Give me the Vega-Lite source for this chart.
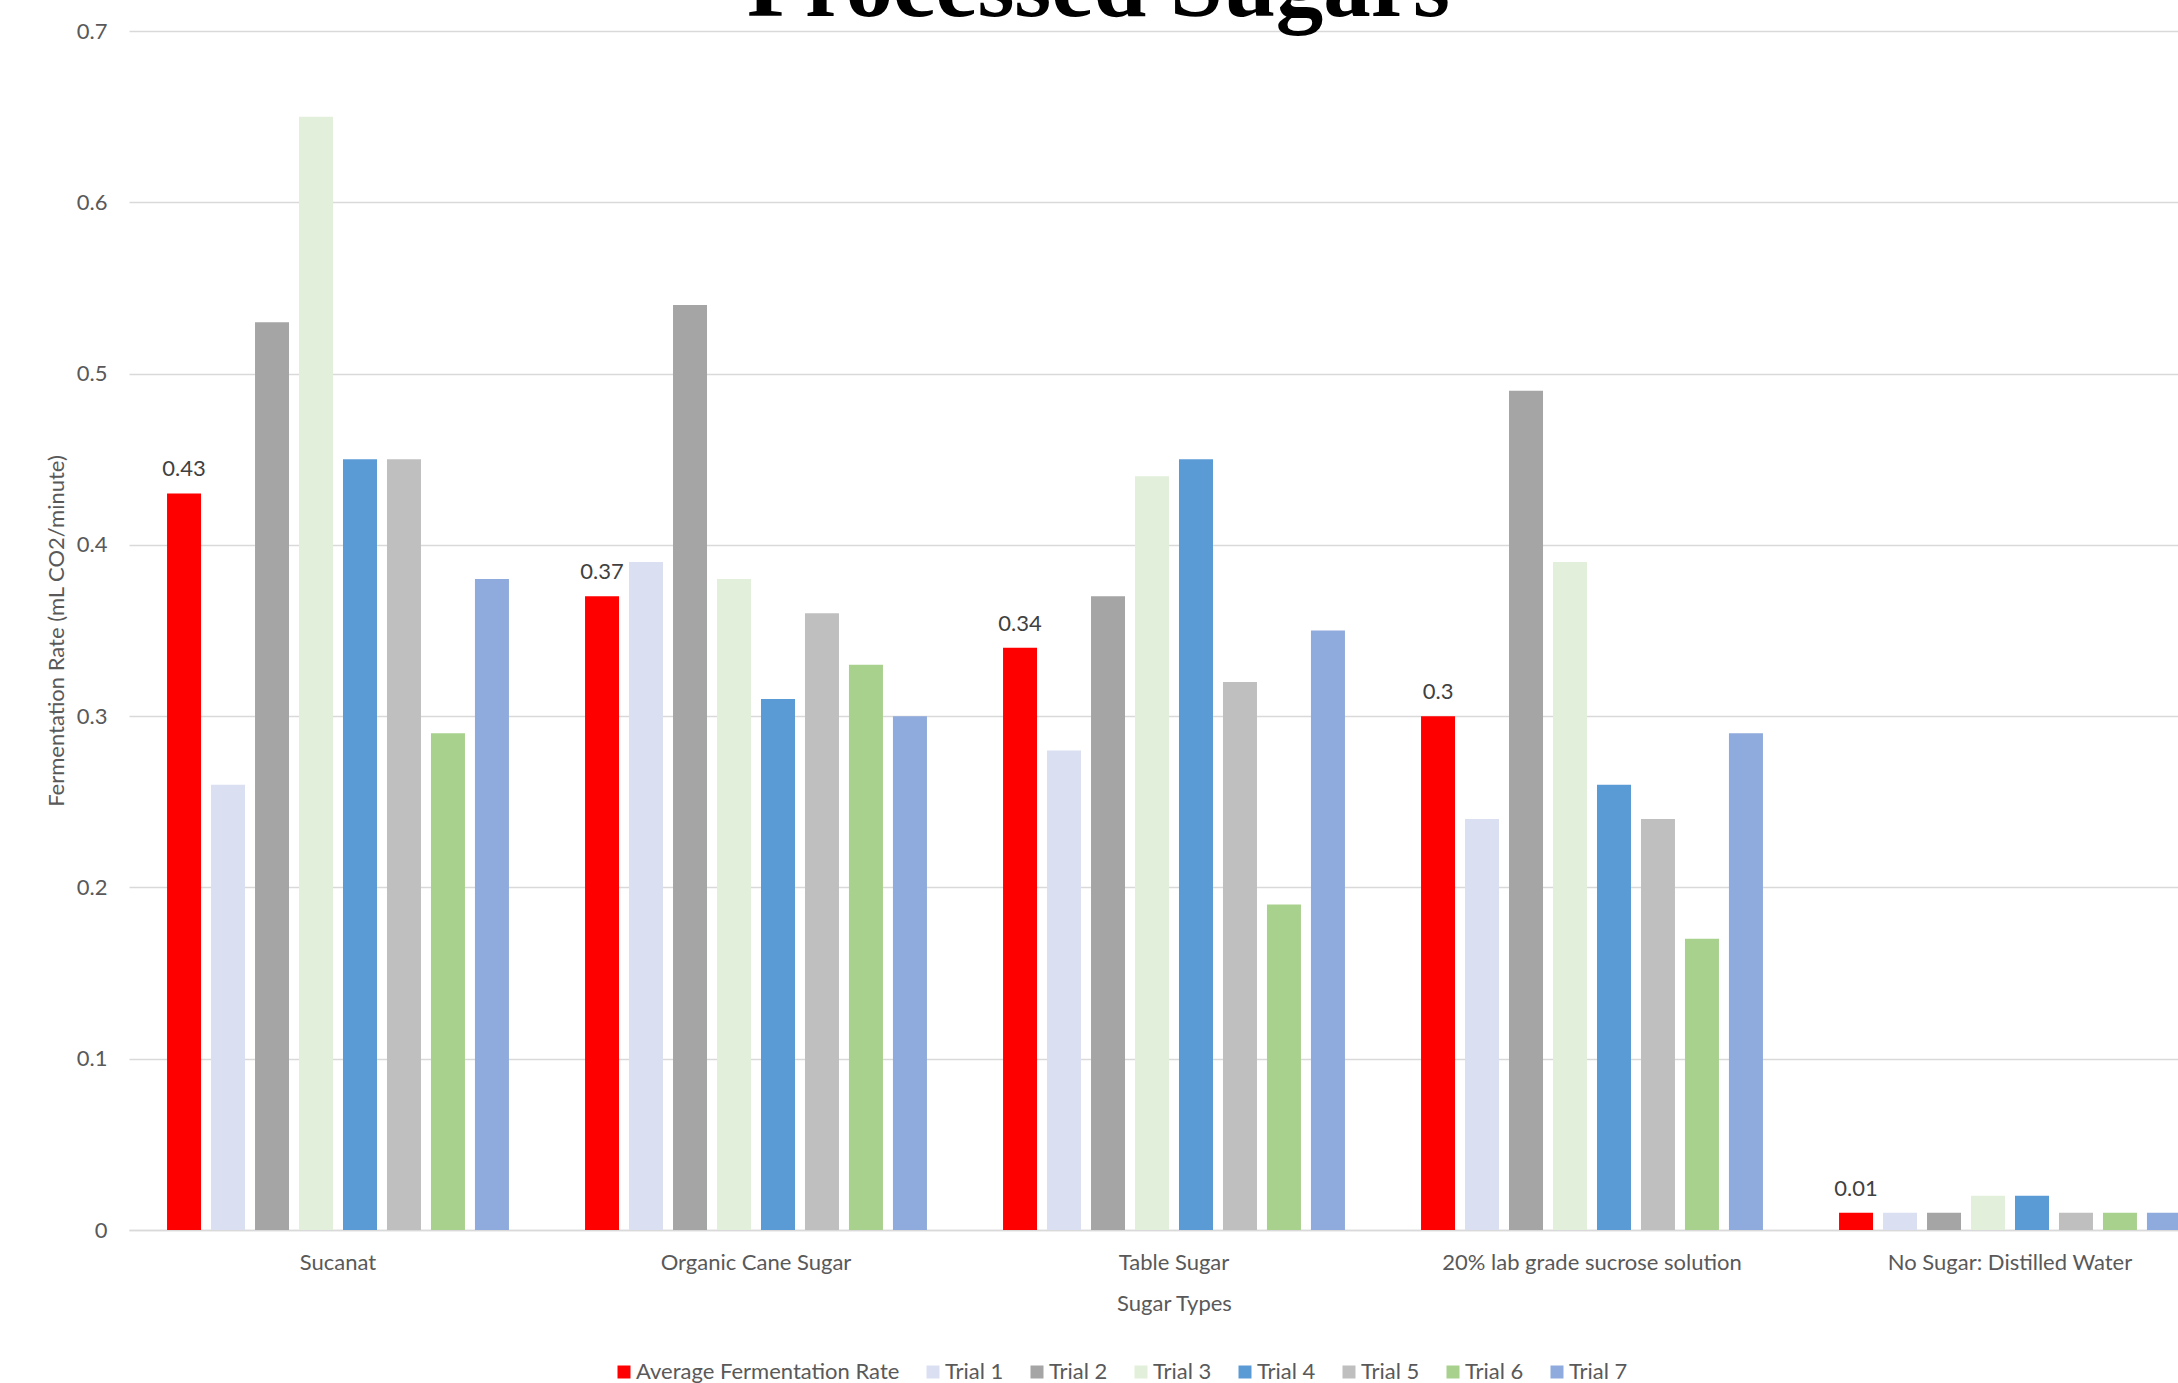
{
  "$schema": "https://vega.github.io/schema/vega-lite/v6.json",
  "autosize": {"type": "none"},
  "width": 2049,
  "height": 1199,
  "padding": {"left": 129, "top": 31, "right": 0, "bottom": 153},
  "background": "white",
  "config": {
    "font": "Lato",
    "view": {"stroke": null}
  },
  "title": {
    "text": "Processed Sugars",
    "font": "Liberation Serif",
    "fontSize": 95,
    "fontWeight": "bold",
    "color": "#000000",
    "anchor": "middle",
    "frame": "group",
    "baseline": "alphabetic",
    "offset": -91,
    "dx": -55
  },
  "data": {
    "values": [
      {"sugar": "Sucanat", "series": "Average Fermentation Rate", "rate": 0.43},
      {"sugar": "Sucanat", "series": "Trial 1", "rate": 0.26},
      {"sugar": "Sucanat", "series": "Trial 2", "rate": 0.53},
      {"sugar": "Sucanat", "series": "Trial 3", "rate": 0.65},
      {"sugar": "Sucanat", "series": "Trial 4", "rate": 0.45},
      {"sugar": "Sucanat", "series": "Trial 5", "rate": 0.45},
      {"sugar": "Sucanat", "series": "Trial 6", "rate": 0.29},
      {"sugar": "Sucanat", "series": "Trial 7", "rate": 0.38},
      {"sugar": "Organic Cane Sugar", "series": "Average Fermentation Rate", "rate": 0.37},
      {"sugar": "Organic Cane Sugar", "series": "Trial 1", "rate": 0.39},
      {"sugar": "Organic Cane Sugar", "series": "Trial 2", "rate": 0.54},
      {"sugar": "Organic Cane Sugar", "series": "Trial 3", "rate": 0.38},
      {"sugar": "Organic Cane Sugar", "series": "Trial 4", "rate": 0.31},
      {"sugar": "Organic Cane Sugar", "series": "Trial 5", "rate": 0.36},
      {"sugar": "Organic Cane Sugar", "series": "Trial 6", "rate": 0.33},
      {"sugar": "Organic Cane Sugar", "series": "Trial 7", "rate": 0.30},
      {"sugar": "Table Sugar", "series": "Average Fermentation Rate", "rate": 0.34},
      {"sugar": "Table Sugar", "series": "Trial 1", "rate": 0.28},
      {"sugar": "Table Sugar", "series": "Trial 2", "rate": 0.37},
      {"sugar": "Table Sugar", "series": "Trial 3", "rate": 0.44},
      {"sugar": "Table Sugar", "series": "Trial 4", "rate": 0.45},
      {"sugar": "Table Sugar", "series": "Trial 5", "rate": 0.32},
      {"sugar": "Table Sugar", "series": "Trial 6", "rate": 0.19},
      {"sugar": "Table Sugar", "series": "Trial 7", "rate": 0.35},
      {"sugar": "20% lab grade sucrose solution", "series": "Average Fermentation Rate", "rate": 0.30},
      {"sugar": "20% lab grade sucrose solution", "series": "Trial 1", "rate": 0.24},
      {"sugar": "20% lab grade sucrose solution", "series": "Trial 2", "rate": 0.49},
      {"sugar": "20% lab grade sucrose solution", "series": "Trial 3", "rate": 0.39},
      {"sugar": "20% lab grade sucrose solution", "series": "Trial 4", "rate": 0.26},
      {"sugar": "20% lab grade sucrose solution", "series": "Trial 5", "rate": 0.24},
      {"sugar": "20% lab grade sucrose solution", "series": "Trial 6", "rate": 0.17},
      {"sugar": "20% lab grade sucrose solution", "series": "Trial 7", "rate": 0.29},
      {"sugar": "No Sugar: Distilled Water", "series": "Average Fermentation Rate", "rate": 0.01},
      {"sugar": "No Sugar: Distilled Water", "series": "Trial 1", "rate": 0.01},
      {"sugar": "No Sugar: Distilled Water", "series": "Trial 2", "rate": 0.01},
      {"sugar": "No Sugar: Distilled Water", "series": "Trial 3", "rate": 0.02},
      {"sugar": "No Sugar: Distilled Water", "series": "Trial 4", "rate": 0.02},
      {"sugar": "No Sugar: Distilled Water", "series": "Trial 5", "rate": 0.01},
      {"sugar": "No Sugar: Distilled Water", "series": "Trial 6", "rate": 0.01},
      {"sugar": "No Sugar: Distilled Water", "series": "Trial 7", "rate": 0.01}
    ]
  },
  "encoding": {
    "x": {
      "field": "sugar",
      "type": "nominal",
      "sort": ["Sucanat", "Organic Cane Sugar", "Table Sugar", "20% lab grade sucrose solution", "No Sugar: Distilled Water"],
      "scale": {"range": [0, 2090], "paddingInner": 0.158, "paddingOuter": 0.079},
      "axis": {
        "title": "Sugar Types",
        "labelAngle": 0,
        "labelFontSize": 22,
        "labelColor": "#595959",
        "labelPadding": 22,
        "labelLimit": 0,
        "ticks": false,
        "tickSize": 0,
        "domainColor": "#d9d9d9",
        "domainWidth": 1.5,
        "titleFontSize": 22,
        "titleFontWeight": "normal",
        "titleColor": "#595959",
        "titlePadding": 20,
        "labelBound": false,
        "labelOverlap": false
      }
    },
    "xOffset": {
      "field": "series",
      "type": "nominal",
      "sort": ["Average Fermentation Rate", "Trial 1", "Trial 2", "Trial 3", "Trial 4", "Trial 5", "Trial 6", "Trial 7"],
      "scale": {"paddingInner": 0.227, "paddingOuter": 0.114}
    },
    "y": {
      "field": "rate",
      "type": "quantitative",
      "scale": {"domain": [0, 0.7], "nice": false},
      "axis": {
        "title": "Fermentation Rate (mL CO2/minute)",
        "values": [0, 0.1, 0.2, 0.3, 0.4, 0.5, 0.6, 0.7],
        "format": "~g",
        "domain": false,
        "ticks": false,
        "tickSize": 0,
        "labelPadding": 22,
        "labelFontSize": 22,
        "labelColor": "#595959",
        "gridColor": "#d9d9d9",
        "gridWidth": 1.3,
        "titleFontSize": 22,
        "titleFontWeight": "normal",
        "titleColor": "#595959",
        "titlePadding": 8
      }
    }
  },
  "layer": [
    {
      "mark": {"type": "bar", "clip": true},
      "encoding": {
        "color": {
          "field": "series",
          "type": "nominal",
          "scale": {
            "domain": ["Average Fermentation Rate", "Trial 1", "Trial 2", "Trial 3", "Trial 4", "Trial 5", "Trial 6", "Trial 7"],
            "range": ["#FF0000", "#DAE0F2", "#A5A5A5", "#E2EFDA", "#5B9BD5", "#BFBFBF", "#A9D18E", "#8FAADC"]
          },
          "legend": {
            "title": null,
            "orient": "none",
            "direction": "horizontal",
            "legendX": 484,
            "legendY": 1330,
            "symbolType": "square",
            "symbolSize": 169,
            "symbolStrokeWidth": 0,
            "labelFontSize": 22,
            "labelColor": "#595959",
            "labelOffset": 1,
            "labelLimit": 0,
            "columnPadding": 22
          }
        }
      }
    },
    {
      "transform": [{"filter": "datum.series === 'Average Fermentation Rate'"}],
      "mark": {"type": "text", "baseline": "alphabetic", "dy": -17, "fontSize": 22, "color": "#404040"},
      "encoding": {
        "text": {"field": "rate", "type": "quantitative", "format": "~g"}
      }
    }
  ]
}
